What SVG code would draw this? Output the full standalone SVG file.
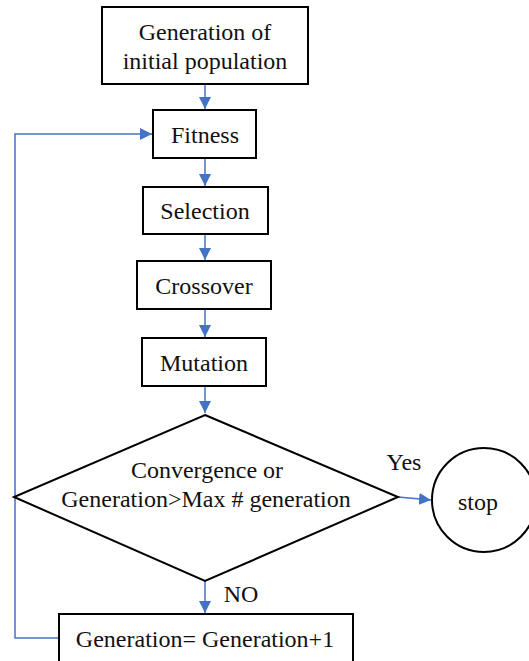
<svg xmlns="http://www.w3.org/2000/svg" width="529" height="661" viewBox="0 0 529 661">
<defs>
<marker id="ah" markerWidth="12" markerHeight="12" viewBox="0 0 12 12" refX="12" refY="6" orient="auto" markerUnits="userSpaceOnUse">
<path d="M0,0 L12,6 L0,12 Z" fill="#4472C4"/>
</marker>
<style>
.box{fill:#fff;stroke:#000;stroke-width:2}
.lbl{font-size:24px;fill:#111;text-anchor:middle}
.con{fill:none;stroke:#4472C4;stroke-width:1.5;marker-end:url(#ah)}
</style>
</defs>
<rect width="529" height="661" fill="#fff"/>
<g id="connectors">
<line class="con" x1="205" y1="84" x2="205" y2="109"/>
<line class="con" x1="205" y1="158" x2="205" y2="186"/>
<line class="con" x1="205" y1="234" x2="205" y2="260"/>
<line class="con" x1="205" y1="309" x2="205" y2="337"/>
<line class="con" x1="205" y1="386" x2="205" y2="413"/>
<line class="con" x1="398" y1="497" x2="431" y2="500"/>
<line class="con" x1="205" y1="581" x2="205" y2="613"/>
<path class="con" d="M59,638 H15 V134 H152"/>
</g>
<g font-family="'Liberation Serif', 'DejaVu Serif', serif">
<g id="init">
<rect class="box" x="102" y="7" width="206" height="77"/>
<text class="lbl" x="205" y="40">Generation of</text>
<text class="lbl" x="205" y="69">initial population</text>
</g>
<g id="fitness">
<rect class="box" x="153" y="110" width="103" height="48"/>
<text class="lbl" x="205" y="143">Fitness</text>
</g>
<g id="selection">
<rect class="box" x="143" y="187" width="125" height="47"/>
<text class="lbl" x="205" y="219">Selection</text>
</g>
<g id="crossover">
<rect class="box" x="137" y="261" width="134" height="48"/>
<text class="lbl" x="204" y="294">Crossover</text>
</g>
<g id="mutation">
<rect class="box" x="142" y="338" width="124" height="48"/>
<text class="lbl" x="204" y="371">Mutation</text>
</g>
<g id="decision">
<polygon class="box" points="205,415 398,497 205,581 14,497"/>
<text class="lbl" x="207" y="478">Convergence or</text>
<text class="lbl" x="206" y="507">Generation&gt;Max # generation</text>
<text class="lbl" x="404" y="470">Yes</text>
<text class="lbl" x="241" y="602">NO</text>
</g>
<g id="stop">
<circle class="box" cx="484" cy="500" r="52"/>
<text class="lbl" x="478" y="510">stop</text>
</g>
<g id="increment">
<rect class="box" x="59" y="614" width="294" height="60"/>
<text class="lbl" x="205" y="647">Generation= Generation+1</text>
</g>
</g>
</svg>
